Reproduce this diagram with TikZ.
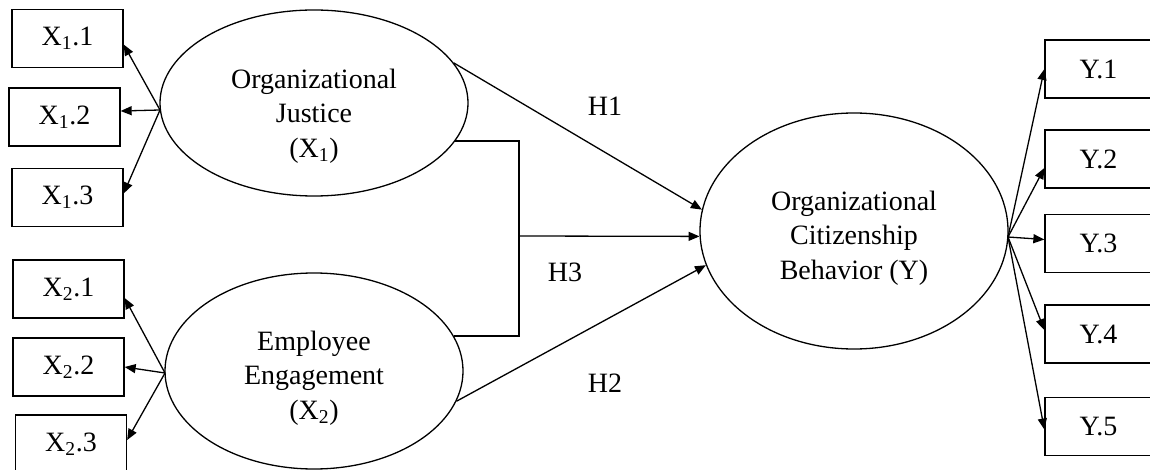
\documentclass[tikz,border=0pt]{standalone}
\usepackage{fontspec}
\setmainfont{Liberation Serif}
\usepackage{tikz}
\usetikzlibrary{arrows.meta,shapes.geometric}
\tikzset{
  ar/.style={-{Triangle[length=11pt,width=9pt]},line width=1.3pt},
  ind/.style={draw,line width=1.3pt,minimum width=111pt,minimum height=58pt,inner sep=0pt},
  lat/.style={draw,ellipse,line width=1.3pt,inner sep=0pt},
  lattxt/.style={align=center,inner sep=0pt}
}

\begin{document}
\begin{tikzpicture}[x=1pt,y=-1pt,font=\fontsize{28}{34.5}\selectfont]
\useasboundingbox[fill=white] (0,0) rectangle (1150,470);
% latent variables
\node[lat,minimum width=308pt,minimum height=186pt] (oj) at (314,103) {};
\node[lat,minimum width=298pt,minimum height=196pt] (ee) at (314,371) {};
\node[lat,minimum width=308pt,minimum height=236pt] (ocb) at (854,231) {};
\node[lattxt] (ojt) at (314,116) {Organizational\\Justice\\(X\textsubscript{1})};
\node[lattxt] (eet) at (314,378) {Employee\\Engagement\\(X\textsubscript{2})};
\node[lattxt] (ocbt) at (854,238) {Organizational\\Citizenship\\Behavior (Y)};
% indicators
\node[ind] (x11) at (67.5,38.5) {X\textsubscript{1}.1};
\node[ind] (x12) at (64.5,117) {X\textsubscript{1}.2};
\node[ind] (x13) at (67.5,197.5) {X\textsubscript{1}.3};
\node[ind] (x21) at (68.5,289) {X\textsubscript{2}.1};
\node[ind] (x22) at (68.5,367) {X\textsubscript{2}.2};
\node[ind] (x23) at (71,444) {X\textsubscript{2}.3};
\node[ind,minimum width=107pt] (y1) at (1098.5,69) {Y.1};
\node[ind,minimum width=107pt] (y2) at (1098.5,159) {Y.2};
\node[ind,minimum width=107pt] (y3) at (1098.5,243.5) {Y.3};
\node[ind,minimum width=107pt] (y4) at (1098.5,334) {Y.4};
\node[ind,minimum width=107pt] (y5) at (1098.5,426.5) {Y.5};
\coordinate (ojL) at (160,110);
\coordinate (eeL) at (165,373);
\coordinate (ocbR) at (1008,237);
\coordinate (hj) at (519,236);
% loadings
\draw[ar] (ojL) -- ([yshift=-6pt]x11.east);
\draw[ar] (ojL) -- ([yshift=6pt]x12.east);
\draw[ar] (ojL) -- ([yshift=4pt]x13.east);
\draw[ar] (eeL) -- ([yshift=-9pt]x21.east);
\draw[ar] (eeL) -- (x22.east);
\draw[ar] (eeL) -- ([yshift=4pt]x23.east);
\draw[ar] (ocbR) -- (y1.west);
\draw[ar] (ocbR) -- ([yshift=-9pt]y2.west);
\draw[ar] (ocbR) -- ([yshift=4pt]y3.west);
\draw[ar] (ocbR) -- ([yshift=4pt]y4.west);
\draw[ar] (ocbR) -- ([yshift=-3pt]y5.west);
% hypotheses
\draw[ar] (oj.16) -- (ocb.172);
\draw[ar] (ee.-12) -- (ocb.193);
\draw[line width=1.3pt] (oj.-15) -| (hj) |- (ee.14);
\draw[ar] (hj) -- (ocb.182);
\node (h1) at (605,106) {H1};
\node (h3) at (565,272) {H3};
\node (h2) at (605,383) {H2};
\end{tikzpicture}
\end{document}
